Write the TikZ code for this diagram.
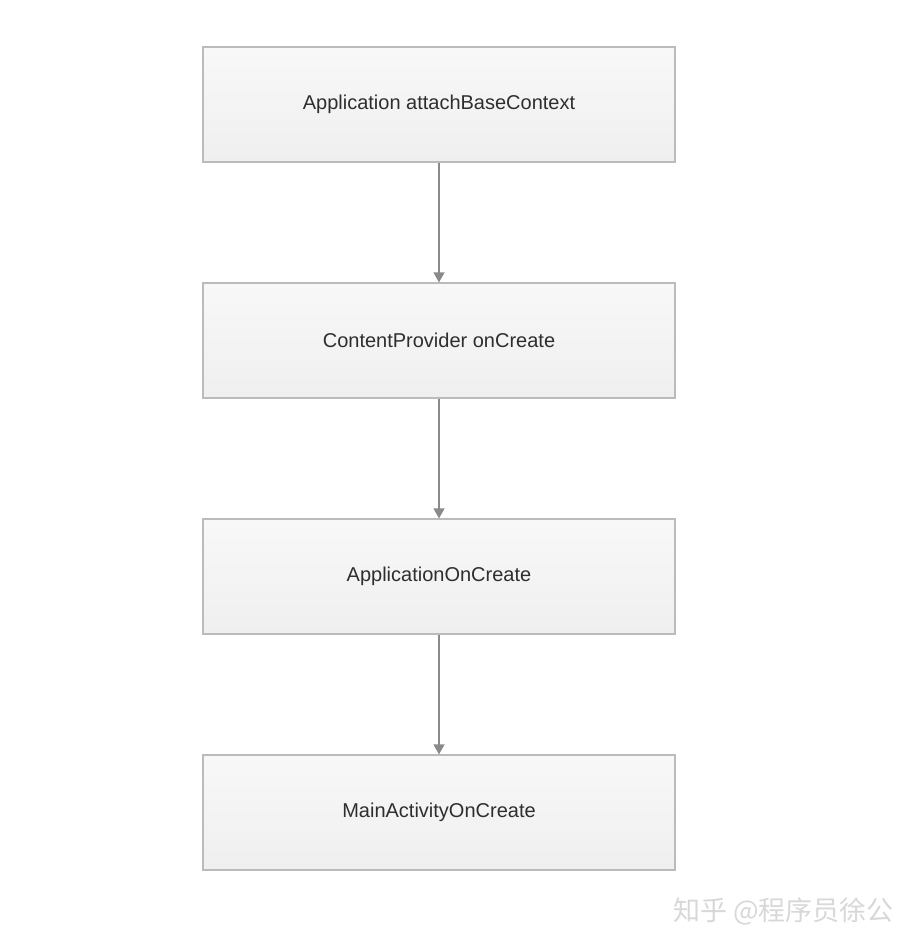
\documentclass[tikz,border=0pt]{standalone}
\usepackage{fontspec}
\setmainfont{Liberation Sans}
\newfontfamily\cjk{Noto Sans CJK SC}
\usetikzlibrary{arrows.meta}
\definecolor{boxborder}{HTML}{BBBBBB}
\definecolor{boxtop}{HTML}{F8F8F8}
\definecolor{boxbot}{HTML}{EFEFEF}
\definecolor{arrowc}{HTML}{8A8A8A}
\definecolor{txt}{HTML}{2E2E2E}
\definecolor{wm}{HTML}{D8D8D8}
\tikzset{
  stepbox/.style={draw=boxborder, line width=1.2pt, top color=boxtop, bottom color=boxbot,
    minimum width=472pt, minimum height=115pt, inner sep=0pt, text=txt,
    font=\fontsize{20pt}{24pt}\selectfont},
  flow/.style={draw=arrowc, line width=1.2pt, -{Triangle[length=10pt,width=11pt]}, shorten >=0pt}
}
\begin{document}
\begin{tikzpicture}[x=1pt,y=-1pt]
\useasboundingbox[fill=white] (0,0) rectangle (916,948);
\node[stepbox] (a) at (439,104.5) {Application attachBaseContext};
\node[stepbox] (b) at (439,340.5) {ContentProvider onCreate};
\node[stepbox] (c) at (439,576.5) {ApplicationOnCreate};
\node[stepbox] (d) at (439,812.5) {MainActivityOnCreate};
\draw[flow] (a) -- (b);
\draw[flow] (b) -- (c);
\draw[flow] (c) -- (d);
\node[text=wm, font=\cjk\fontsize{27pt}{31pt}\selectfont, anchor=east, inner sep=0pt] (w) at (894,911) {知乎 @程序员徐公};
\end{tikzpicture}
\end{document}
